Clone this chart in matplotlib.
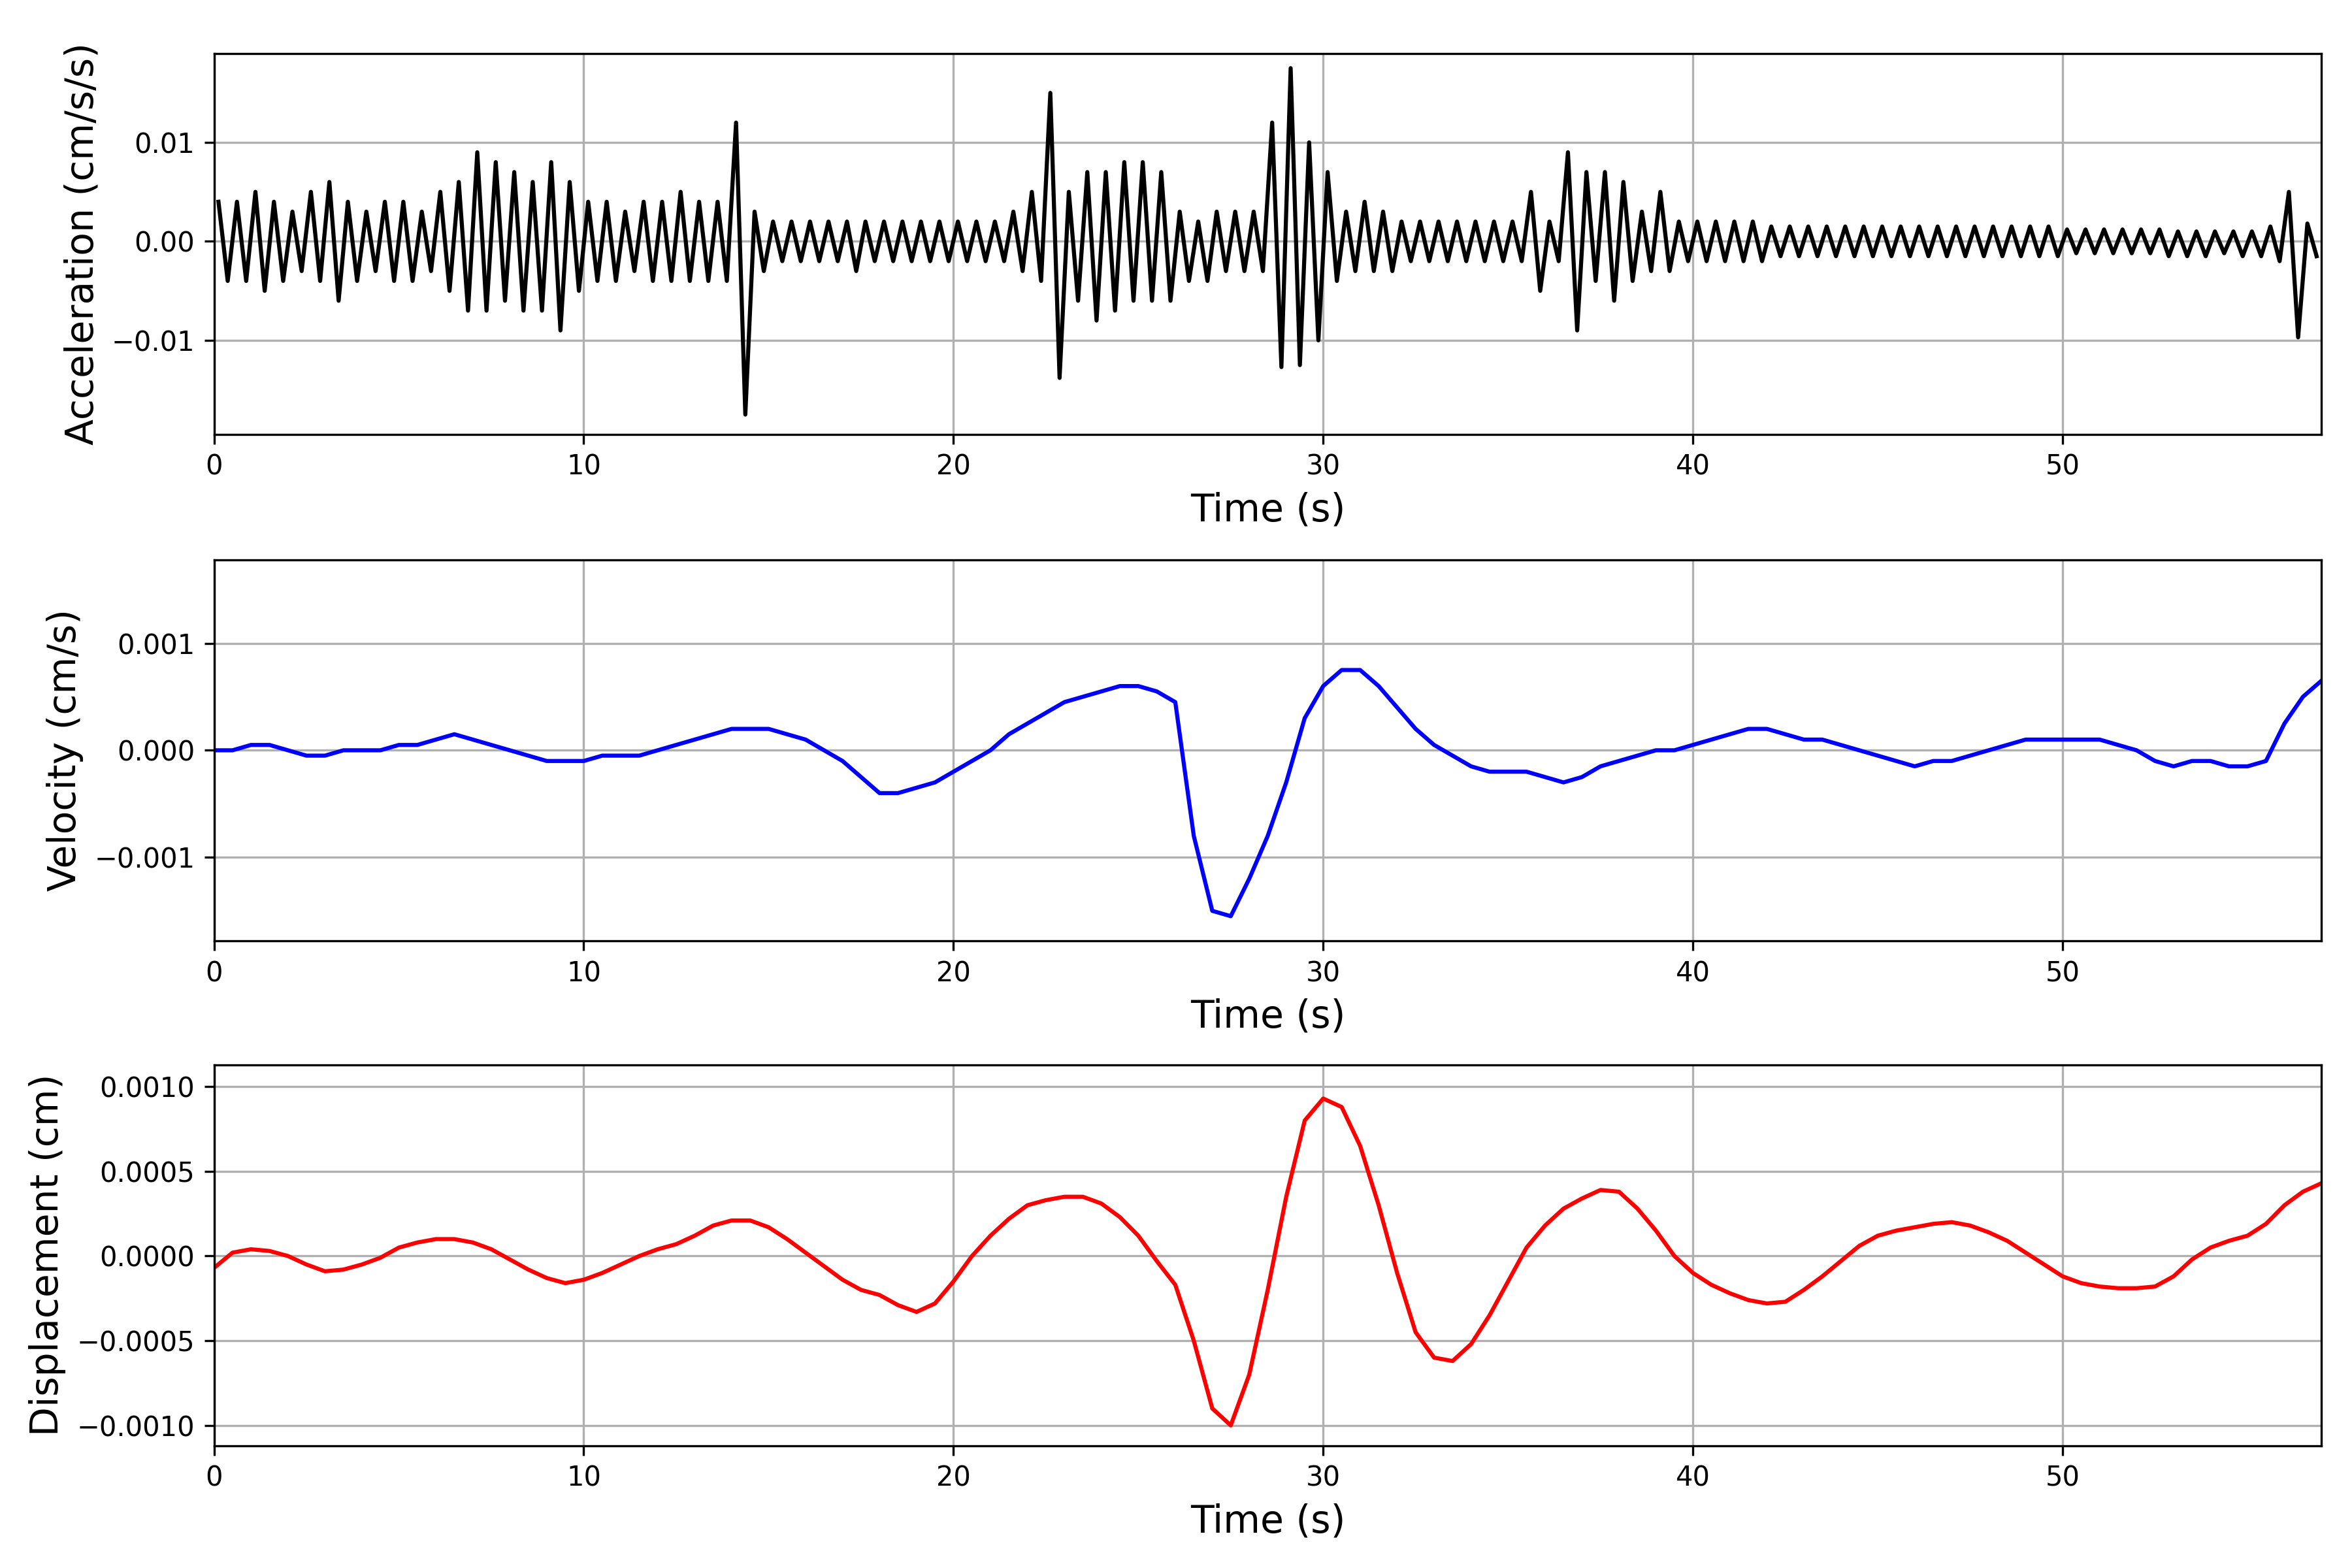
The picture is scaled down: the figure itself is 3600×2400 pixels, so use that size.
import numpy as np
import matplotlib
matplotlib.use("Agg")
import matplotlib.pyplot as plt

# acceleration envelope per 0.5 s window (x1e-3 cm/s/s)
acc_upper = [4,4,5,4,3,5,6,4,3,4,
             4,3,5,6,9,8,7,6,8,6,
             4,4,3,4,4,5,4,4,12,3,
             2,2,2,2,2,2,2,2,2,2,
             2,2,2,3,5,15,5,7,7,8,
             8,7,3,2,3,3,3,12,17.5,10,
             7,3,4,3,2,2,2,2,2,2,
             2,5,2,9,7,7,6,3,5,2,
             2,2,2,2,1.5,1.5,1.5,1.5,1.5,1.5,
             1.5,1.5,1.5,1.5,1.5,1.5,1.5,1.5,1.5,1.5,
             1.2,1.2,1.2,1.2,1.2,1.2,1,1,1,1,
             1,1.5,5,1.8]
acc_lower = [-4,-4,-5,-4,-3,-4,-6,-4,-3,-4,
             -4,-3,-5,-7,-7,-6,-7,-7,-9,-5,
             -4,-4,-3,-4,-4,-4,-4,-4,-17.5,-3,
             -2,-2,-2,-2,-3,-2,-2,-2,-2,-2,
             -2,-2,-2,-3,-4,-13.8,-6,-8,-7,-6,
             -6,-6,-4,-4,-3,-3,-3,-12.7,-12.5,-10,
             -4,-3,-3,-3,-2,-2,-2,-2,-2,-2,
             -2,-5,-2,-9,-4,-6,-4,-3,-3,-2,
             -2,-2,-2,-2,-1.5,-1.5,-1.5,-1.5,-1.5,-1.5,
             -1.5,-1.5,-1.5,-1.5,-1.5,-1.5,-1.5,-1.5,-1.5,-1.5,
             -1.2,-1.2,-1.2,-1.2,-1.2,-1.5,-1.5,-1.5,-1.2,-1.5,
             -1.5,-2,-9.7,-1.5]

# velocity every 0.5 s (x1e-3 cm/s)
vel = [0,0,0.05,0.05,0,-0.05,-0.05,0,0,0,
       0.05,0.05,0.1,0.15,0.1,0.05,0,-0.05,-0.1,-0.1,
       -0.1,-0.05,-0.05,-0.05,0,0.05,0.1,0.15,0.2,0.2,
       0.2,0.15,0.1,0,-0.1,-0.25,-0.4,-0.4,-0.35,-0.3,
       -0.2,-0.1,0,0.15,0.25,0.35,0.45,0.5,0.55,0.6,
       0.6,0.55,0.45,-0.8,-1.5,-1.55,-1.2,-0.8,-0.3,0.3,
       0.6,0.75,0.75,0.6,0.4,0.2,0.05,-0.05,-0.15,-0.2,
       -0.2,-0.2,-0.25,-0.3,-0.25,-0.15,-0.1,-0.05,0,0,
       0.05,0.1,0.15,0.2,0.2,0.15,0.1,0.1,0.05,0,
       -0.05,-0.1,-0.15,-0.1,-0.1,-0.05,0,0.05,0.1,0.1,
       0.1,0.1,0.1,0.05,0,-0.1,-0.15,-0.1,-0.1,-0.15,
       -0.15,-0.1,0.25,0.5,0.65]

# displacement every 0.5 s (x1e-4 cm)
disp = [-0.7,0.2,0.4,0.3,0,-0.5,-0.9,-0.8,-0.5,-0.1,
        0.5,0.8,1.0,1.0,0.8,0.4,-0.2,-0.8,-1.3,-1.6,
        -1.4,-1.0,-0.5,0,0.4,0.7,1.2,1.8,2.1,2.1,
        1.7,1.0,0.2,-0.6,-1.4,-2.0,-2.3,-2.9,-3.3,-2.8,
        -1.5,0,1.2,2.2,3.0,3.3,3.5,3.5,3.1,2.3,
        1.2,-0.3,-1.7,-5,-9,-10,-7,-2,3.5,8,
        9.3,8.8,6.5,3,-1,-4.5,-6,-6.2,-5.2,-3.5,
        -1.5,0.5,1.8,2.8,3.4,3.9,3.8,2.8,1.5,0,
        -1,-1.7,-2.2,-2.6,-2.8,-2.7,-2.0,-1.2,-0.3,0.6,
        1.2,1.5,1.7,1.9,2.0,1.8,1.4,0.9,0.2,-0.5,
        -1.2,-1.6,-1.8,-1.9,-1.9,-1.8,-1.2,-0.2,0.5,0.9,
        1.2,1.9,3.0,3.8,4.3]

tw = np.arange(len(acc_upper)) * 0.5
ta = np.ravel(np.column_stack([tw + 0.12, tw + 0.37]))
a = np.ravel(np.column_stack([acc_upper, acc_lower])) * 1e-3
tv = np.arange(len(vel)) * 0.5
td = np.arange(len(disp)) * 0.5

fig = plt.figure(figsize=(12, 8), dpi=300)
ax1 = fig.add_axes([0.091, 0.723, 0.896, 0.243])
ax2 = fig.add_axes([0.091, 0.400, 0.896, 0.243])
ax3 = fig.add_axes([0.091, 0.078, 0.896, 0.243])

ax1.plot(ta, a, color='black', lw=1.5)
ax1.set_ylim(-0.0195, 0.019)
ax1.set_ylabel('Acceleration (cm/s/s)', fontsize=14)
ax2.plot(tv, np.array(vel) * 1e-3, color='blue', lw=1.5)
ax2.set_ylim(-0.00178, 0.00178)
ax2.set_yticks([-0.001, 0.0, 0.001])
ax2.set_ylabel('Velocity (cm/s)', fontsize=14)
ax3.plot(td, np.array(disp) * 1e-4, color='red', lw=1.5)
ax3.set_ylim(-0.00112, 0.00113)
ax3.set_yticks([-0.001, -0.0005, 0, 0.0005, 0.001])
ax3.set_yticklabels(['\u22120.0010', '\u22120.0005', '0.0000', '0.0005', '0.0010'])
ax3.set_ylabel('Displacement (cm)', fontsize=14)
for ax in (ax1, ax2, ax3):
    ax.set_xlim(0, 57)
    ax.set_xlabel('Time (s)', fontsize=14)
    ax.grid(True)
fig.savefig('out.png')
